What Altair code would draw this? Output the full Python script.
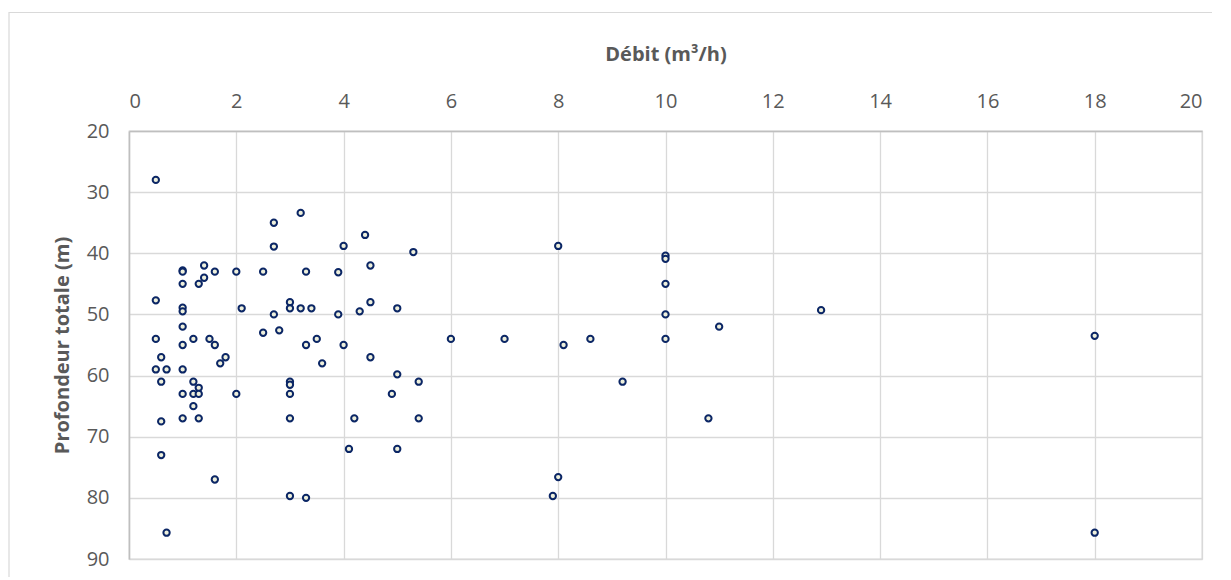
import altair as alt
import pandas as pd

debit = [0.5, 3.2, 2.7, 4.4, 2.7, 4.0, 5.3, 1.4, 4.5, 1.0, 1.0, 1.6, 2.0, 2.5, 3.3, 3.9,
         1.4, 1.0, 1.3, 0.5, 3.0, 4.5, 1.0, 1.0, 2.1, 3.0, 3.2, 3.4, 5.0, 4.3, 2.7, 3.9,
         1.0, 2.5, 2.8, 0.5, 1.2, 1.5, 3.5, 6.0, 1.0, 1.6, 3.3, 4.0, 0.6, 1.8, 4.5, 1.7,
         3.6, 0.5, 0.7, 1.0, 5.0, 0.6, 1.2, 3.0, 3.0, 5.4, 1.3, 1.0, 1.2, 1.3, 2.0, 3.0,
         4.9, 1.2, 0.6, 1.0, 1.3, 3.0, 4.2, 5.4, 0.6, 4.1, 5.0, 1.6, 3.0, 3.3, 0.7, 8.0,
         10.0, 10.0, 10.0, 10.0, 11.0, 7.0, 8.1, 8.6, 10.0, 9.2, 10.8, 8.0, 7.9, 12.9,
         18.0, 18.0]
profondeur = [28, 33.4, 35, 37, 38.9, 38.8, 39.8, 42, 42, 42.8, 43, 43, 43, 43, 43, 43.1,
              44, 45, 45, 47.7, 48, 48, 48.9, 49.5, 49, 49, 49, 49, 49, 49.5, 50, 50,
              52, 53, 52.6, 54, 54, 54, 54, 54, 55, 55, 55, 55, 57, 57, 57, 58,
              58, 59, 59, 59, 59.8, 61, 61, 61, 61.5, 61, 62, 63, 63, 63, 63, 63,
              63, 65, 67.5, 67, 67, 67, 67, 67, 73, 72, 72, 77, 79.7, 80, 85.7, 38.8,
              40.4, 40.9, 45, 50, 52, 54, 55, 54, 54, 61, 67, 76.6, 79.7, 49.3,
              53.5, 85.7]

df = pd.DataFrame({"debit": debit, "profondeur": profondeur})

W, H = 1073, 428
FONT = "Open Sans"
GREY = "#595959"

border = alt.Chart(pd.DataFrame({"a": [0]})).mark_rect(
    fill=None, stroke="#d9d9d9", strokeWidth=1.2
).encode(
    x=alt.value(-120), x2=alt.value(W + 200),
    y=alt.value(-118.5), y2=alt.value(H + 200),
)

points = alt.Chart(df).mark_point(
    shape="circle", filled=True, fill="#eef0dc", stroke="#0b2665",
    strokeWidth=2, size=40, opacity=1
).encode(
    x=alt.X("debit:Q",
            scale=alt.Scale(domain=[0, 20], nice=False),
            axis=alt.Axis(orient="top", values=list(range(0, 21, 2)),
                          title="Débit (m³/h)", titleFont=FONT, titleFontSize=20,
                          titleFontWeight="bold", titleColor=GREY,
                          titlePadding=27,
                          labelFont=FONT, labelFontSize=20, labelColor=GREY,
                          labelPadding=20, ticks=False,
                          domainColor="#bfbfbf", domainWidth=1.5,
                          gridColor="#d9d9d9", gridWidth=1.3)),
    y=alt.Y("profondeur:Q",
            scale=alt.Scale(domain=[20, 90], reverse=True, nice=False, zero=False),
            axis=alt.Axis(values=list(range(20, 91, 10)),
                          title="Profondeur totale (m)", titleFont=FONT,
                          titleFontSize=20, titleFontWeight="bold", titleColor=GREY,
                          titlePadding=14,
                          labelFont=FONT, labelFontSize=20, labelColor=GREY,
                          labelPadding=20, ticks=False,
                          domainColor="#bfbfbf", domainWidth=1.5,
                          gridColor="#d9d9d9", gridWidth=1.3)),
)

chart = alt.layer(border, points).properties(
    width=W, height=H,
    padding={"left": 121, "top": 123, "right": 10, "bottom": 18},
    autosize="none",
).configure_view(stroke="#d9d9d9", strokeWidth=1.3)

chart.save("out.html", embed_options={"renderer": "svg", "actions": False})
